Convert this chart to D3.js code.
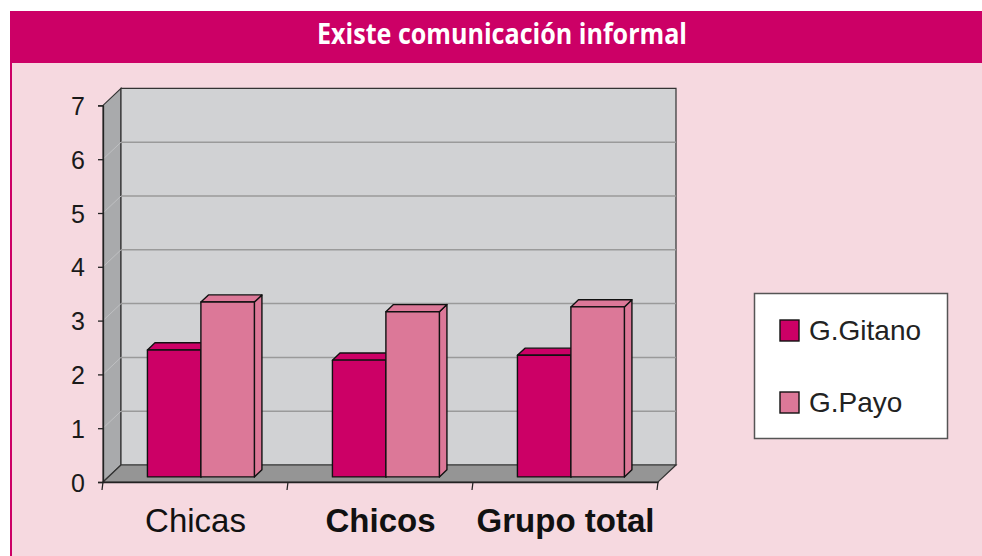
<!DOCTYPE html>
<html>
<head>
<meta charset="utf-8">
<script src="https://cdn.jsdelivr.net/npm/d3@7"></script>
<style>
  body { margin: 0; background: #fff; }
  svg { display: block; }
  .ylab text { font-family: "Liberation Sans", Arial, sans-serif; font-size: 25px; fill: #1a1a1a; }
  .xlab { font-family: "Liberation Sans", Arial, sans-serif; font-size: 33px; fill: #111; }
  .legend text { font-family: "Liberation Sans", Arial, sans-serif; font-size: 28px; fill: #222; }
</style>
</head>
<body>
<svg width="982" height="556"></svg>
<script>
// data
const categories = ["Chicas", "Chicos", "Grupo total"];
const boldCategory = [false, true, true];
const seriesNames = ["G.Gitano", "G.Payo"];
const gitano = [2.36, 2.17, 2.26];
const payo = [3.25, 3.07, 3.16];
const yTicks = [0, 1, 2, 3, 4, 5, 6, 7];
const seriesColors = ["#cc0066", "#dc7898"];

const svg = d3.select("svg");

// frame: white margin, magenta header, pink panel
svg.append("rect").attr("x", 10).attr("y", 11).attr("width", 972).attr("height", 545).attr("fill", "#f6d9e0");
svg.append("rect").attr("x", 10).attr("y", 11).attr("width", 972).attr("height", 52).attr("fill", "#cc0066");
svg.append("rect").attr("x", 10).attr("y", 63).attr("width", 2).attr("height", 493).attr("fill", "#cc0066");

svg.append("text")
  .attr("x", 502).attr("y", 44)
  .attr("text-anchor", "middle")
  .attr("textLength", 370).attr("lengthAdjust", "spacingAndGlyphs")
  .style("font-family", "'Open Sans', 'Noto Sans', sans-serif")
  .style("font-weight", "bold").style("font-size", "28px")
  .attr("fill", "#fff")
  .text("Existe comunicación informal");

// 3D geometry
const DX = 18, DY = 17;        // depth offset of back wall
const left = 103, right = 658;
const y = d3.scaleLinear().domain([0, 7]).range([482, 105.4]);
const x = d3.scaleBand().domain(categories).range([left, right]).padding(0);
const xs = d3.scaleBand().domain(seriesNames).range([0, x.bandwidth()]).paddingInner(0).paddingOuter(0.73);

const P = (px, v, z) => [px + z * DX, y(v) - z * DY];
const pts = a => a.map(p => p.join(",")).join(" ");

const chart = svg.append("g");

// left wall
chart.append("polygon")
  .attr("points", pts([P(left, 0, 0), P(left, 7, 0), P(left, 7, 1), P(left, 0, 1)]))
  .attr("fill", "#a9aaac").attr("stroke", "#333").attr("stroke-width", 1.2);
// back wall
chart.append("polygon")
  .attr("points", pts([P(left, 0, 1), P(left, 7, 1), P(right, 7, 1), P(right, 0, 1)]))
  .attr("fill", "#d1d2d4").attr("stroke", "#333").attr("stroke-width", 1.2);

// gridlines
yTicks.filter(d => d > 0 && d < 7).forEach(d => {
  chart.append("polyline")
    .attr("points", pts([P(left, d, 0), P(left, d, 1)]))
    .attr("fill", "none").attr("stroke", "#bfc0c2").attr("stroke-width", 1);
  chart.append("line")
    .attr("x1", P(left, d, 1)[0]).attr("y1", P(left, d, 1)[1])
    .attr("x2", P(right, d, 1)[0]).attr("y2", P(right, d, 1)[1])
    .attr("stroke", "#9a9a9a").attr("stroke-width", 1.5);
});

// floor
chart.append("polygon")
  .attr("points", pts([P(left, 0, 0), P(right, 0, 0), P(right, 0, 1), P(left, 0, 1)]))
  .attr("fill", "#959595").attr("stroke", "#333").attr("stroke-width", 1.2);

// bars
const Z0 = 0.3, Z1 = 0.72;
const rows = categories.map((c, i) => [gitano[i], payo[i]]);
categories.forEach((c, ci) => {
  seriesNames.forEach((s, si) => {
    const v = rows[ci][si];
    const x0 = x(c) + xs(s), x1 = x0 + xs.bandwidth();
    const g = chart.append("g")
      .attr("fill", seriesColors[si]).attr("stroke", "#111")
      .attr("stroke-width", 1.4).attr("stroke-linejoin", "round");
    g.append("polygon").attr("points", pts([P(x1, 0, Z0), P(x1, v, Z0), P(x1, v, Z1), P(x1, 0, Z1)]));
    g.append("polygon").attr("points", pts([P(x0, v, Z0), P(x1, v, Z0), P(x1, v, Z1), P(x0, v, Z1)]));
    g.append("polygon").attr("points", pts([P(x0, 0, Z0), P(x0, v, Z0), P(x1, v, Z0), P(x1, 0, Z0)]));
  });
});

// y axis
const yAxis = svg.append("g").attr("class", "ylab")
  .attr("transform", `translate(${left},0)`)
  .call(d3.axisLeft(y).tickValues(yTicks).tickSize(5).tickPadding(13).tickFormat(d3.format("d")));
yAxis.select(".domain").attr("stroke", "#222").attr("stroke-width", 1.3);
yAxis.selectAll(".tick line").attr("stroke", "#222").attr("stroke-width", 1.3);
yAxis.selectAll(".tick text").attr("dy", "0.36em");

// x axis ticks on the front floor edge
const xAxis = svg.append("g")
  .attr("transform", `translate(0,${y(0)})`)
  .call(d3.axisBottom(x).tickValues([]).tickSizeOuter(0));
xAxis.select(".domain").attr("stroke", "#222").attr("stroke-width", 1.3);
const edges = [left].concat(categories.map(c => x(c) + x.bandwidth()));
xAxis.selectAll(".edge").data(edges).enter().append("line")
  .attr("x1", d => d).attr("x2", d => d - 1).attr("y1", 0).attr("y2", 8)
  .attr("stroke", "#222").attr("stroke-width", 1.3);

svg.selectAll(".xlab").data(categories).enter().append("text")
  .attr("class", "xlab")
  .attr("x", d => x(d) + x.bandwidth() / 2)
  .attr("y", 532)
  .attr("text-anchor", "middle")
  .style("font-weight", (d, i) => boldCategory[i] ? "bold" : "normal")
  .text(d => d);

// legend
const legend = svg.append("g").attr("class", "legend");
legend.append("rect").attr("x", 754.5).attr("y", 293.5).attr("width", 193).attr("height", 145)
  .attr("fill", "#fff").attr("stroke", "#555").attr("stroke-width", 1.5);
const item = legend.selectAll(".item").data(seriesNames).enter().append("g")
  .attr("transform", (d, i) => `translate(780,${320 + i * 72})`);
item.append("rect").attr("width", 19).attr("height", 21)
  .attr("fill", (d, i) => seriesColors[i]).attr("stroke", "#111").attr("stroke-width", 1.4);
item.append("text").attr("x", 29).attr("y", 19.5).text(d => d);
</script>
</body>
</html>
